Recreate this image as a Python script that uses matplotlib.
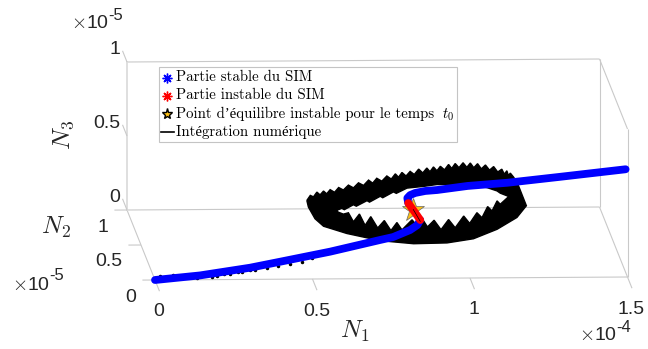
import numpy as np
import matplotlib
matplotlib.use('Agg')
import matplotlib.pyplot as plt
from matplotlib.patches import PathPatch, Rectangle
from matplotlib.path import Path

plt.rcParams['mathtext.fontset'] = 'cm'
plt.rcParams['axes.unicode_minus'] = False

# N1 in 1e-4, N3 in 1e-5 (curves, taken on the plane N2 = 0)
stable_low_n1 = [0, .143, .302, .397, .556, .715, .756, .810, .833, .842]
stable_low_n3 = [0, .029, .079, .118, .184, .261, .280, .327, .360, .394]
unstable_n1 = [.842, .829, .804]
unstable_n3 = [.394, .434, .509]
stable_up_n1 = [.804, .801, .810, .826, .858, .896, .992, 1.119, 1.287, 1.494]
stable_up_n3 = [.509, .543, .563, .577, .590, .596, .622, .642, .680, .728]
equil_n1 = [.819]
equil_n3 = [.462]

# outline of the black band left by the integration
band_n1 = [.482, .487, .508, .535, .609, .715, .821, .927, 1.011, 1.086, 1.149, 1.179, 1.154, 1.139,
           1.128, 1.122, 1.117, 1.109, 1.101, 1.088, 1.075, 1.062, 1.049, 1.036, 1.024, 1.012, 1.001,
           .990, .978, .965, .953, .942, .932, .919, .906, .895, .884, .873, .863, .850, .837, .823,
           .810, .797, .784, .773, .763, .750, .736, .720, .704, .691, .678, .662, .646, .630, .614,
           .598, .583, .570, .556, .545, .535, .524, .514, .503, .493]
band_n3 = [.531, .486, .407, .356, .306, .256, .234, .238, .265, .328, .407, .486, .621, .678,
           .707, .690, .723, .700, .734, .715, .752, .728, .763, .737, .772, .745, .777,
           .748, .779, .746, .774, .741, .768, .732, .756, .726, .752, .720, .745, .712, .738, .702,
           .723, .692, .716, .684, .707, .672, .693, .658, .678, .645, .666, .630, .648, .614, .633,
           .600, .617, .585, .603, .575, .594, .568, .587, .555, .565]
hole_n1 = [.572, .593, .601, .630, .639, .673, .681, .715, .723, .757, .766, .800, .853, .895, .927,
           .969, 1.011, 1.054, 1.086, 1.096, 1.123, 1.096, 1.086, 1.070, 1.056, 1.038, 1.022, .999,
           .980, .953, .932, .908, .886, .865, .847, .829, .816, .800, .784, .768, .749, .728, .707,
           .685, .667, .649, .630, .614, .598]
hole_n3 = [.459, .476, .467, .500, .490, .527, .517, .556, .546, .585, .575, .610, .621, .633, .633,
           .633, .626, .610, .587, .572, .549, .497, .520, .452, .482, .407, .441, .369,
           .419, .340, .396, .328, .392, .347, .407, .362, .396, .362, .328, .378, .324, .392, .342,
           .419, .360, .437, .385, .446, .437]

# bits of the integration that stick out of the blue curve
dots_n1 = [.016, .058, .132, .180, .196, .219, .238, .262, .275, .300, .318, .355, .392, .429, .466, .498, .575]
dots_n3 = [.029, .033, .014, .020, .026, .035, .039, .048, .052, .061, .063, .074, .088, .102, .118, .140, .458]
thin_n1 = [.820, .842]
thin_n3 = [.465, .385]

n1_ticks = [0, 0.5, 1, 1.5]
n2_ticks = [0, 0.5, 1]
n3_ticks = [0, 0.5, 1]
n1_labels = ['0', '0.5', '1', '1.5']
n2_labels = ['0', '0.5', '1']
n3_labels = ['0', '0.5', '1']
legend_labels = ['Partie stable du SIM', 'Partie instable du SIM',
                 'Point d’équilibre instable pour le temps', 'Intégration numérique']


def project(n1, n2, n3):
    # view of the 3D box, gives pixels
    n1, n2, n3 = np.asarray(n1, float), np.asarray(n2, float), np.asarray(n3, float)
    return 155 + 315 * n1 - 28 * n2, 280 - 2 * n1 - 70 * n2 - 148 * n3


def line3(ax, a, b, **kw):
    sx, sy = project([a[0], b[0]], [a[1], b[1]], [a[2], b[2]])
    ax.plot(sx, sy, **kw)


fig = plt.figure(figsize=(6.48, 3.49), dpi=100)
ax = fig.add_axes([0, 0, 1, 1])
ax.set_xlim(0, 648)
ax.set_ylim(349, 0)
ax.axis('off')

# box
box = dict(color='#c9c9c9', lw=0.8, solid_capstyle='butt', zorder=1)
for a, b in [((0, 1, 0), (1.5, 1, 0)), ((1.5, 1, 0), (1.5, 1, 1)), ((0, 1, 1), (1.5, 1, 1)),
             ((0, 0, 0), (1.5, 0, 0)), ((0, 0, 0), (0, 1, 0)), ((1.5, 0, 0), (1.5, 1, 0)),
             ((1.5, 0, 0), (1.5, 0, 1)), ((1.5, 0, 1), (1.5, 1, 1))]:
    line3(ax, a, b, **box)
line3(ax, (0, 1, 0), (0, 1, 1), color='#dcdcdc', lw=1.3, zorder=1)

# ticks
for t in n1_ticks:
    line3(ax, (t, 0, 0), (t, -0.16, 0), **box)
for t in n2_ticks:
    line3(ax, (0, t, 0), (-0.04, t, 0), **box)
for t in n3_ticks:
    line3(ax, (0, 1, t), (0, 1.16, t), **box)

tick_font = dict(family='Liberation Sans', fontsize=14, color='#262626', ha='center', va='center')
for t, lab in zip(n1_ticks, n1_labels):
    sx, sy = project(t, 0, 0)
    ax.text(sx + 4, sy + 32, lab, **tick_font)
for t, lab in zip(n2_ticks, n2_labels):
    sx, sy = project(0, t, 0)
    ax.text(sx - 19, sy + 17, lab, **{**tick_font, 'ha': 'right'})
for t, lab in zip(n3_ticks, n3_labels):
    sx, sy = project(0, 1, t)
    ax.text(sx - 7, sy - 13, lab, **{**tick_font, 'ha': 'right'})

# exponents
for x, y, exp in [(71, 24, '-5'), (12, 285, '-5'), (579, 336, '-4')]:
    ax.text(x, y, r'$\times$10', ha='left', va='center', family='Liberation Sans', fontsize=14, color='#262626')
    ax.text(x + 37, y - 9, exp, ha='left', va='center', family='Liberation Sans', fontsize=12, color='#262626')

ax.text(355, 331, r'$N_1$', fontsize=18, ha='center', va='center', color='#262626')
ax.text(56, 227, r'$N_2$', fontsize=18, ha='center', va='center', color='#262626')
ax.text(64, 135, r'$N_3$', fontsize=18, ha='center', va='center', color='#262626', rotation=90)

# integration band
ox, oy = project(band_n1, 0, band_n3)
hx, hy = project(hole_n1, 0, hole_n3)
verts = list(zip(ox, oy)) + [(ox[0], oy[0])] + list(zip(hx, hy)) + [(hx[0], hy[0])]
codes = [Path.MOVETO] + [Path.LINETO] * len(ox) + [Path.MOVETO] + [Path.LINETO] * len(hx)
ax.add_patch(PathPatch(Path(verts, codes), facecolor='k', edgecolor='k', lw=1, zorder=2))
sx, sy = project(dots_n1, 0, dots_n3)
ax.plot(sx, sy, 'k.', ms=3, zorder=2)

# star, then the SIM
sx, sy = project(equil_n1, 0, equil_n3)
ax.plot(sx, sy, marker='*', ms=17, mfc='#fbbf16', mec='#666666', mew=0.5, ls='none', zorder=3)
for n1, n3, col in [(stable_low_n1, stable_low_n3, '#0000ff'), (stable_up_n1, stable_up_n3, '#0000ff'),
                    (unstable_n1, unstable_n3, '#ff0000')]:
    sx, sy = project(n1, 0, n3)
    ax.plot(sx, sy, color=col, lw=5.6, solid_capstyle='round', solid_joinstyle='round', zorder=4)
sx, sy = project(thin_n1, 0, thin_n3)
ax.plot(sx, sy, 'k', lw=0.5, zorder=5)

# legend by hand: a label holding math loses the é, so t0 is its own text
ax.add_patch(Rectangle((159, 67), 298, 75, facecolor='white', edgecolor='#c4c4c4', lw=0.8, zorder=6))
ax.plot([167], [77.5], ls='none', marker=(8, 2, 0), ms=7, mew=1, color='#0000ff', zorder=7)
ax.plot([167], [95.5], ls='none', marker=(8, 2, 0), ms=7, mew=1, color='#ff0000', zorder=7)
ax.plot([167], [113.5], ls='none', marker='*', ms=8, mfc='#fbbf16', mec='k', mew=1, zorder=7)
ax.plot([161, 174], [131.5, 131.5], color='k', lw=1.2, zorder=7)
for lab, y in zip(legend_labels, [81, 99, 118, 136]):
    ax.text(176, y, lab, family=['cmr10', 'Liberation Serif'], fontsize=10.7, ha='left', va='baseline', zorder=7)
ax.text(442, 118, '$t_0$', fontsize=10.7, ha='left', va='baseline', zorder=7)

fig.savefig('out.png', dpi=100)
